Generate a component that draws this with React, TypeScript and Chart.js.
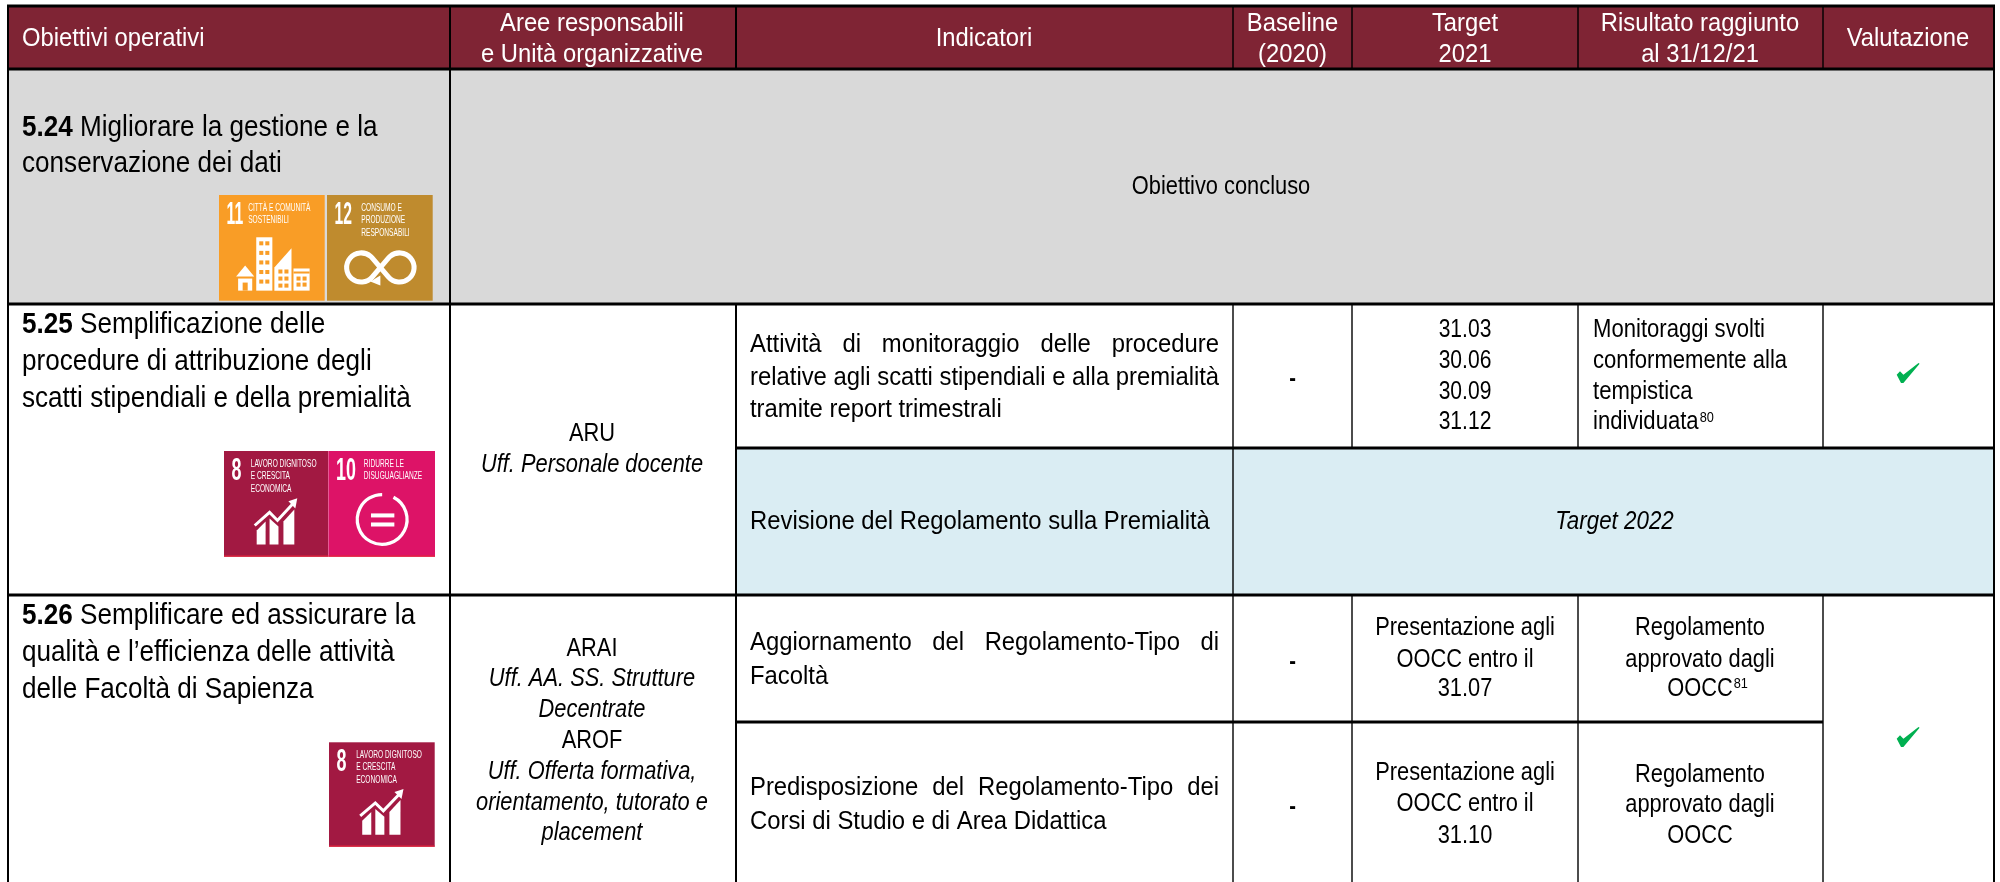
import React, { useEffect, useRef } from "react";
import { Chart, registerables } from "chart.js";

Chart.register(...registerables);

const FONT = '"Liberation Sans", Arial, sans-serif';

// ---- table content ----
const headerSingle = ["Obiettivi operativi", "Indicatori", "Valutazione"];
const headerAree = ["Aree responsabili", "e Unità organizzative"];
const headerBaseline = ["Baseline", "(2020)"];
const headerTarget = ["Target", "2021"];
const headerRisultato = ["Risultato raggiunto", "al 31/12/21"];

const obj524 = ["5.24", " Migliorare la gestione e la", "conservazione dei dati"];
const obj525 = ["5.25", " Semplificazione delle", "procedure di attribuzione degli", "scatti stipendiali e della premialità"];
const obj526 = ["5.26", " Semplificare ed assicurare la", "qualità e l’efficienza delle attività", "delle Facoltà di Sapienza"];

const concluded = "Obiettivo concluso";
const target2022 = "Target 2022";
const aruLines = ["ARU", "Uff. Personale docente"];
const araiLines = ["ARAI", "Uff. AA. SS. Strutture", "Decentrate", "AROF", "Uff. Offerta formativa,", "orientamento, tutorato e", "placement"];
const araiItalic = [false, true, true, false, true, true, true];

const indMonitor = ["Attività di monitoraggio delle procedure", "relative agli scatti stipendiali e alla premialità", "tramite report trimestrali"];
const indRevisione = "Revisione del Regolamento sulla Premialità";
const indAggiorn = ["Aggiornamento del Regolamento-Tipo di", "Facoltà"];
const indPredisp = ["Predisposizione del Regolamento-Tipo dei", "Corsi di Studio e di Area Didattica"];

const baselineValue = "-";
const targetDates = ["31.03", "30.06", "30.09", "31.12"];
const targetFac = ["Presentazione agli", "OOCC entro il", "31.07"];
const targetCds = ["Presentazione agli", "OOCC entro il", "31.10"];
const resMonitor = ["Monitoraggi svolti", "conformemente alla", "tempistica", "individuata"];
const resFac = ["Regolamento", "approvato dagli", "OOCC"];
const resCds = ["Regolamento", "approvato dagli", "OOCC"];
const noteMonitor = "80";
const noteFac = "81";

// SDG tiles
const sdg11 = { n: "11", caption: ["CITTÀ E COMUNITÀ", "SOSTENIBILI"] };
const sdg12 = { n: "12", caption: ["CONSUMO E", "PRODUZIONE", "RESPONSABILI"] };
const sdg8 = { n: "8", caption: ["LAVORO DIGNITOSO", "E CRESCITA", "ECONOMICA"] };
const sdg10 = { n: "10", caption: ["RIDURRE LE", "DISUGUAGLIANZE"] };

// ---- layout, in the table's own coordinate system ----
const X = { l: 8, a: 450, b: 736, c: 1233, d: 1352, e: 1578, f: 1823, r: 1994, end: 2000 };
const Y = { t: 6, h: 69, g: 304, m: 448, n: 595, o: 722, end: 882 };
const checkPoints = [{ x: 1908, y: 373 }, { x: 1908, y: 737 }];

const COL = {
  head: "#7f2434", grey: "#d9d9d9", blue: "#daedf3", o11: "#f99d26", g12: "#bf8b2e", r8: "#a21942", p10: "#dd1367", check: "#00b050",
};

const SIZE = 26;
const sqHead = 0.915;
const sqBody = 0.84;
const sqInd = 0.917;
const sqTitle = 0.87;

function drawTable(chart: any) {
  const { ctx, scales } = chart;
  const px = (v: number) => scales.x.getPixelForValue(v);
  const py = (v: number) => scales.y.getPixelForValue(v);

  const rect = (x0: number, y0: number, x1: number, y1: number, c: string) => {
    ctx.fillStyle = c;
    ctx.fillRect(px(x0), py(y0), px(x1) - px(x0), py(y1) - py(y0));
  };
  const hl = (y: number, x0: number, x1: number, w: number) => rect(x0, y - w / 2, x1, y + w / 2, "#000");
  const vl = (x: number, y0: number, y1: number, w: number) => rect(x - w / 2, y0, x + w / 2, y1, "#000");

  rect(0, 0, X.end, Y.end, "#fff");
  rect(X.l, Y.t, X.r, Y.h, COL.head);
  rect(X.l, Y.h, X.r, Y.g, COL.grey);
  rect(X.b, Y.m, X.r, Y.n, COL.blue);

  const rr = X.r + 1;
  hl(Y.t, X.l - 1, rr, 3);
  hl(Y.h, X.l - 1, rr, 3);
  hl(Y.g, X.l - 1, rr, 3);
  hl(Y.m, X.b, rr, 3);
  hl(Y.n, X.l - 1, rr, 3);
  hl(Y.o, X.b, X.f, 3);
  vl(X.l, Y.t, Y.end, 2);
  vl(X.a, Y.t, Y.end, 2);
  vl(X.b, Y.t, Y.h, 2);
  vl(X.b, Y.g, Y.end, 2);
  vl(X.r, Y.t, Y.end, 2);
  for (const x of [X.c, X.d, X.e, X.f]) {
    vl(x, Y.t, Y.h, 1.4);
    vl(x, Y.g, x === X.c ? Y.n : Y.m, 1.4);
    vl(x, Y.n, Y.end, 1.4);
  }

  const text = (s: string, x: number, y: number, opt: any = {}) => {
    const size = opt.size ?? SIZE;
    const sq = opt.sq ?? sqBody;
    ctx.save();
    ctx.font = `${opt.italic ? "italic " : ""}${opt.bold ? "bold " : ""}${size}px ${FONT}`;
    ctx.fillStyle = opt.color ?? "#000";
    ctx.textBaseline = "middle";
    ctx.textAlign = "left";
    const w = ctx.measureText(s).width * sq;
    const ax = opt.align === "center" ? x - w / 2 : x;
    ctx.translate(px(ax), py(y));
    ctx.scale(sq, 1);
    ctx.fillText(s, 0, 0);
    ctx.restore();
    return w;
  };
  const justified = (s: string, x0: number, x1: number, y: number, sq: number) => {
    ctx.font = `${SIZE}px ${FONT}`;
    const words = s.split(" ");
    const ws = words.map((w) => ctx.measureText(w).width * sq);
    const gap = (x1 - x0 - ws.reduce((a, b) => a + b, 0)) / (words.length - 1);
    let x = x0;
    words.forEach((w, i) => {
      text(w, x, y, { sq });
      x += ws[i] + gap;
    });
  };
  const objTitle = (lines: string[], ys: number[]) => {
    const w = text(lines[0], 22, ys[0], { size: 30, bold: true, sq: sqTitle });
    text(lines[1], 22 + w, ys[0], { size: 30, sq: sqTitle });
    lines.slice(2).forEach((l, i) => text(l, 22, ys[i + 1], { size: 30, sq: sqTitle }));
  };
  const centered = (lines: string[], x: number, ys: number[], sq = sqBody) =>
    lines.forEach((l, i) => text(l, x, ys[i], { align: "center", sq }));

  // header
  const white = { color: "#fff", sq: sqHead };
  const whiteC = { color: "#fff", align: "center", sq: sqHead };
  const cxA = (X.a + X.b) / 2 - 1;
  const cxInd = 984, cxBase = 1292.5, cxTar = 1465, cxRes = 1700, cxVal = 1908;
  text(headerSingle[0], 22, 39, white);
  text(headerSingle[1], cxInd, 39, whiteC);
  text(headerSingle[2], cxVal, 39, whiteC);
  const hy = [24, 55];
  headerAree.forEach((l, i) => text(l, cxA, hy[i], whiteC));
  headerBaseline.forEach((l, i) => text(l, cxBase, hy[i], whiteC));
  headerTarget.forEach((l, i) => text(l, cxTar, hy[i], whiteC));
  headerRisultato.forEach((l, i) => text(l, cxRes, hy[i], whiteC));

  // column 1
  objTitle(obj524, [128, 164]);
  objTitle(obj525, [325, 362, 399]);
  objTitle(obj526, [616, 653, 690]);

  // row 5.24
  text(concluded, 1221, 187, { align: "center" });

  // column 2
  text(aruLines[0], cxA, 434, { align: "center" });
  text(aruLines[1], cxA, 465, { align: "center", italic: true });
  const araiY = [649, 679, 710, 741, 772, 803, 833];
  araiLines.forEach((l, i) => text(l, cxA, araiY[i], { align: "center", italic: araiItalic[i] }));

  // indicators
  const iL = 750, iR = 1219;
  justified(indMonitor[0], iL, iR, 345, sqInd);
  text(indMonitor[1], iL, 378, { sq: sqInd });
  text(indMonitor[2], iL, 410, { sq: sqInd });
  text(indRevisione, iL, 522, { sq: sqInd });
  text(target2022, 1614.5, 522, { align: "center", italic: true, sq: 0.86 });
  justified(indAggiorn[0], iL, iR, 643, sqInd);
  text(indAggiorn[1], iL, 677, { sq: sqInd });
  justified(indPredisp[0], iL, iR, 788, sqInd);
  text(indPredisp[1], iL, 822, { sq: sqInd });

  // baseline
  for (const y of [379, 662, 807]) text(baselineValue, cxBase, y, { align: "center", bold: true, size: 24 });

  // target, result
  centered(targetDates, cxTar, [330, 361, 392, 422], 0.81);
  centered(targetFac, cxTar, [628, 660, 689]);
  centered(targetCds, cxTar, [773, 804, 836]);
  const monY = [330, 361, 392, 422];
  let lastW = 0;
  resMonitor.forEach((l, i) => { lastW = text(l, 1593, monY[i], { sq: 0.85 }); });
  text(noteMonitor, 1593 + lastW + 1, 418, { size: 15, sq: 0.85 });
  centered(resFac, cxRes, [628, 660, 689]);
  const facW = (() => { ctx.font = `${SIZE}px ${FONT}`; return ctx.measureText(resFac[2]).width * sqBody; })();
  text(noteFac, cxRes + facW / 2 + 1, 684, { size: 15, sq: 0.85 });
  centered(resCds, cxRes, [775, 805, 836]);

  // SDG tiles
  const tile = (sd: any, x: number, y: number, w: number, h: number, col: string, glyph: (t: any) => void, capX: number, line?: string) => {
    rect(x, y, x + w, y + h, col);
    if (line) rect(x, y + h - 1.2, x + w, y + h, line);
    const sc = w / 105;
    const T = (lx: number, ly: number) => [x + lx * sc, y + ly * (h / 105)] as [number, number];
    const [nx, ny] = T(7.5, 20);
    text(sd.n, nx, ny, { size: 32, bold: true, color: "#fff", sq: sd.n === "8" ? 0.56 : sd.n === "10" ? 0.56 : 0.49 });
    sd.caption.forEach((c: string, i: number) => {
      const [cx, cy] = T(capX, 13 + i * 12.3);
      text(c, cx, cy, { size: 11, color: "#fff", sq: 0.6 });
    });
    glyph({ T, sc });
  };
  const poly = (pts: [number, number][], c: string) => {
    ctx.fillStyle = c;
    ctx.beginPath();
    pts.forEach((p, i) => (i ? ctx.lineTo(px(p[0]), py(p[1])) : ctx.moveTo(px(p[0]), py(p[1]))));
    ctx.closePath();
    ctx.fill();
  };

  const city = ({ T }: any) => {
    const box = (a: number, b: number, c: number, d: number, col = "#fff") => {
      const p = T(a, b), q = T(c, d);
      rect(p[0], p[1], q[0], q[1], col);
    };
    box(37, 42, 53, 95);
    for (let r = 0; r < 5; r++) for (let c = 0; c < 2; c++) box(40 + c * 6, 46 + r * 9.5, 44 + c * 6, 50 + r * 9.5, COL.o11);
    poly([T(55, 95), T(55, 72), T(72, 53), T(72, 95)], "#fff");
    for (let r = 0; r < 3; r++) for (let c = 0; c < 2; c++) box(59 + c * 6, 74 + r * 7, 63 + c * 6, 78 + r * 7, COL.o11);
    box(74, 73, 90, 95);
    box(74, 76, 90, 78, COL.o11);
    for (let r = 0; r < 2; r++) for (let c = 0; c < 2; c++) box(77 + c * 6, 81 + r * 6, 81 + c * 6, 85 + r * 6, COL.o11);
    poly([T(17, 81), T(26, 70), T(35, 81)], "#fff");
    box(19, 83, 33, 95);
    box(23.5, 87, 28.5, 95, COL.o11);
  };
  const infinity = ({ T, sc }: any) => {
    ctx.strokeStyle = "#fff";
    ctx.lineWidth = 5 * sc;
    const [cx, cy] = T(53, 72);
    const R = 14.5 * sc, d = 19 * sc;
    const th = Math.acos(R / d);
    const tx = d - R * Math.cos(th), ty = R * Math.sin(th);
    ctx.beginPath();
    ctx.arc(px(cx - d), py(cy), R, th, Math.PI * 2 - th, false);
    ctx.lineTo(px(cx + tx), py(cy + ty));
    ctx.arc(px(cx + d), py(cy), R, Math.PI - th + 0, Math.PI + th, true);
    ctx.lineTo(px(cx - tx), py(cy + ty));
    ctx.stroke();
    poly([T(43, 86), T(53, 80), T(53, 90)], "#fff");
  };
  const growth = ({ T, sc }: any) => {
    poly([T(33, 79), T(42, 70), T(42, 93), T(33, 93)], "#fff");
    poly([T(46, 67), T(55, 75), T(55, 93), T(46, 93)], "#fff");
    poly([T(60, 70), T(71, 58), T(71, 93), T(60, 93)], "#fff");
    ctx.strokeStyle = "#fff";
    ctx.lineWidth = 3 * sc;
    ctx.beginPath();
    const pts = [T(31, 74), T(46, 61), T(54, 69), T(70, 52)];
    pts.forEach((p: number[], i: number) => (i ? ctx.lineTo(px(p[0]), py(p[1])) : ctx.moveTo(px(p[0]), py(p[1]))));
    ctx.stroke();
    poly([T(74, 47), T(72, 57), T(65, 50)], "#fff");
  };
  const equal = ({ T, sc }: any) => {
    const [cx, cy] = T(53, 68);
    ctx.strokeStyle = "#fff";
    ctx.lineWidth = 3.2 * sc;
    ctx.beginPath();
    ctx.arc(px(cx), py(cy), 24.5 * sc, -Math.PI * 0.35, Math.PI * 1.5);
    ctx.stroke();
    const p = T(42, 62), q = T(65, 66), r = T(42, 71), s = T(65, 75);
    rect(p[0], p[1], q[0], q[1], "#fff");
    rect(r[0], r[1], s[0], s[1], "#fff");
  };

  tile(sdg11, 219, 195, 105.7, 105.7, COL.o11, city, 29);
  tile(sdg12, 327, 195, 105.7, 105.7, COL.g12, infinity, 34);
  tile(sdg8, 224, 451, 104, 105.7, COL.r8, growth, 27, "#e5243b");
  tile(sdg10, 328.3, 451, 106.7, 105.7, COL.p10, equal, 35, "#e5243b");
  tile(sdg8, 329, 742.3, 105.7, 104.4, COL.r8, growth, 27, "#e5243b");
}

const checkShape: [number, number][] = [[-11.3, 1.7], [-8, -1.7], [-4.6, 1.7], [10.5, -10], [11.6, -9.3], [-4.6, 10], [-7, 10]];

function checkGlyph() {
  const c = document.createElement("canvas");
  c.width = 34;
  c.height = 34;
  const g = c.getContext("2d")!;
  g.fillStyle = COL.check;
  g.beginPath();
  checkShape.forEach(([x, y], i) => (i ? g.lineTo(17 + x, 17 + y) : g.moveTo(17 + x, 17 + y)));
  g.closePath();
  g.fill();
  return c;
}

const tablePlugin = {
  id: "tablePlugin",
  beforeDatasetsDraw: (chart: any) => drawTable(chart),
};

export default function App() {
  const ref = useRef<HTMLCanvasElement | null>(null);
  useEffect(() => {
    document.body.style.margin = "0";
    const chart = new Chart(ref.current!, {
      type: "scatter",
      data: {
        datasets: [
          {
            label: "Valutazione",
            data: checkPoints,
            pointStyle: checkGlyph() as any,
            pointRadius: 12,
          },
        ],
      },
      plugins: [tablePlugin],
      options: {
        animation: false,
        responsive: false,
        devicePixelRatio: 1,
        layout: { padding: 0, autoPadding: false },
        plugins: { legend: { display: false }, tooltip: { enabled: false } },
        scales: {
          x: { type: "linear", display: false, min: 0, max: 2000 },
          y: { type: "linear", display: false, min: 0, max: 882, reverse: true },
        },
      },
    } as any);
    return () => chart.destroy();
  }, []);
  return (
    <canvas
      ref={ref}
      width={2000}
      height={882}
      style={{ position: "absolute", left: 0, top: 0, width: 2000, height: 882, display: "block" }}
    />
  );
}
